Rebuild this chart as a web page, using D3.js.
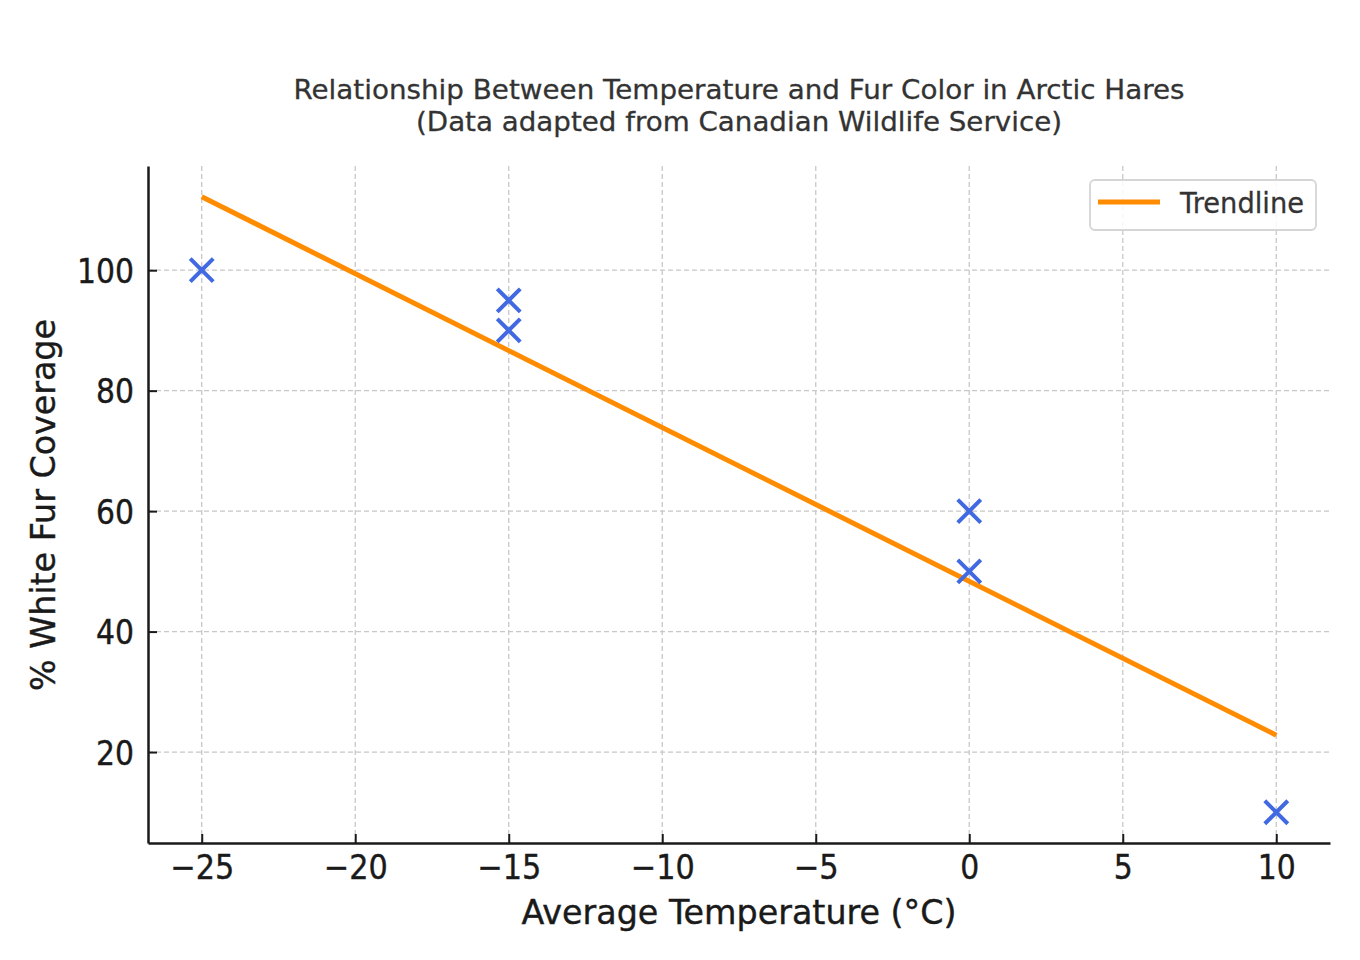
<!DOCTYPE html>
<html>
<head>
<meta charset="utf-8">
<script src="https://cdn.jsdelivr.net/npm/d3@7"></script>
<style>
  body { margin: 0; background: #fff; }
  svg { font-family: "DejaVu Sans", sans-serif; }
</style>
</head>
<body>
<script>
var temps = [-25, -15, -15, 0, 0, 10];
var whiteFur = [100, 95, 90, 60, 50, 10];

// trendline endpoints
var trendX = [-25, 10];
var trendY = [112.2, 22.8];

var xTicks = [-25, -20, -15, -10, -5, 0, 5, 10];
var yTicks = [20, 40, 60, 80, 100];

var width = 1360, height = 960;
var margin = {top: 166, right: 30, bottom: 117, left: 148};

var svg = d3.select('body').append('svg')
  .attr('width', width).attr('height', height);

var x = d3.scaleLinear().domain([-26.75, 11.75]).range([margin.left, width - margin.right]);
var y = d3.scaleLinear().domain([4.9, 117.3]).range([height - margin.bottom, margin.top]);

// grid
svg.append('g').selectAll('line').data(xTicks).enter().append('line')
  .attr('x1', function (d) { return x(d); }).attr('x2', function (d) { return x(d); })
  .attr('y1', y.range()[1]).attr('y2', y.range()[0])
  .attr('stroke', '#c8c8c8').attr('stroke-width', 1.3).attr('stroke-dasharray', '5,3');
svg.append('g').selectAll('line').data(yTicks).enter().append('line')
  .attr('y1', function (d) { return y(d); }).attr('y2', function (d) { return y(d); })
  .attr('x1', x.range()[0]).attr('x2', x.range()[1])
  .attr('stroke', '#c8c8c8').attr('stroke-width', 1.3).attr('stroke-dasharray', '5,3');

// axes
var xAxis = svg.append('g')
  .attr('transform', 'translate(0,' + (height - margin.bottom) + ')')
  .call(d3.axisBottom(x).tickValues(xTicks).tickSizeInner(-9).tickSizeOuter(0).tickPadding(12)
    .tickFormat(function (d) { return d < 0 ? '\u2212' + Math.abs(d) : d; }));
var yAxis = svg.append('g')
  .attr('transform', 'translate(' + margin.left + ',0)')
  .call(d3.axisLeft(y).tickValues(yTicks).tickSizeInner(-9).tickSizeOuter(0).tickPadding(14));

[xAxis, yAxis].forEach(function (a) {
  a.select('.domain').attr('stroke', '#1a1a1a').attr('stroke-width', 2.5);
  a.selectAll('.tick line').attr('stroke', '#1a1a1a').attr('stroke-width', 2);
  a.selectAll('.tick text').attr('fill', '#1a1a1a').attr('font-size', 34)
    .attr('stroke', '#1a1a1a').attr('stroke-width', 0.4)
    .attr('font-family', '"DejaVu Sans", sans-serif');
});
xAxis.selectAll('.tick text').attr('dy', '0.71em');
yAxis.selectAll('.tick text').attr('dy', '0.36em');
// narrow the glyphs a bit like the reference
function squeeze(sel) {
  sel.each(function () {
    var t = d3.select(this), s = t.text();
    var w = 0;
    for (var i = 0; i < s.length; i++) w += s.charAt(i) === '\u2212' ? 26 : 19;
    t.attr('textLength', w).attr('lengthAdjust', 'spacingAndGlyphs');
  });
}
squeeze(xAxis.selectAll('.tick text'));
squeeze(yAxis.selectAll('.tick text'));

// trendline
var line = d3.line().x(function (d) { return x(d[0]); }).y(function (d) { return y(d[1]); });
svg.append('path')
  .datum(d3.zip(trendX, trendY))
  .attr('d', line)
  .attr('fill', 'none').attr('stroke', '#ff8c00').attr('stroke-width', 5);

// x markers
var m = 11.5;
svg.append('g').selectAll('path').data(d3.zip(temps, whiteFur)).enter().append('path')
  .attr('d', function (d) {
    var cx = x(d[0]), cy = y(d[1]);
    return 'M' + (cx - m) + ',' + (cy - m) + 'L' + (cx + m) + ',' + (cy + m) +
           'M' + (cx - m) + ',' + (cy + m) + 'L' + (cx + m) + ',' + (cy - m);
  })
  .attr('stroke', '#4169e1').attr('stroke-width', 4).attr('fill', 'none');

// titles
svg.append('text').attr('x', 739).attr('y', 99).attr('text-anchor', 'middle')
  .attr('font-size', 27).attr('fill', '#333').attr('stroke', '#333').attr('stroke-width', 0.3)
  .attr('textLength', 891).attr('lengthAdjust', 'spacingAndGlyphs')
  .text('Relationship Between Temperature and Fur Color in Arctic Hares');
svg.append('text').attr('x', 739).attr('y', 131).attr('text-anchor', 'middle')
  .attr('font-size', 27).attr('fill', '#333').attr('stroke', '#333').attr('stroke-width', 0.3)
  .attr('textLength', 646).attr('lengthAdjust', 'spacingAndGlyphs')
  .text('(Data adapted from Canadian Wildlife Service)');

svg.append('text').attr('x', 739).attr('y', 924).attr('text-anchor', 'middle')
  .attr('font-size', 33).attr('fill', '#1a1a1a').attr('stroke', '#1a1a1a').attr('stroke-width', 0.4)
  .attr('textLength', 435).attr('lengthAdjust', 'spacingAndGlyphs')
  .text('Average Temperature (\u00b0C)');
svg.append('text').attr('transform', 'translate(55,505) rotate(-90)').attr('text-anchor', 'middle')
  .attr('font-size', 33).attr('fill', '#1a1a1a').attr('stroke', '#1a1a1a').attr('stroke-width', 0.4)
  .attr('textLength', 372).attr('lengthAdjust', 'spacingAndGlyphs')
  .text('% White Fur Coverage');

// legend
var lg = svg.append('g');
lg.append('rect').attr('x', 1090).attr('y', 180).attr('width', 226).attr('height', 50)
  .attr('rx', 5).attr('fill', '#fff').attr('fill-opacity', 0.85)
  .attr('stroke', '#d5d5d5').attr('stroke-width', 1.8);
lg.append('line').attr('x1', 1098).attr('x2', 1160).attr('y1', 202).attr('y2', 202)
  .attr('stroke', '#ff8c00').attr('stroke-width', 5);
lg.append('text').attr('x', 1180).attr('y', 213).attr('font-size', 29).attr('fill', '#333')
  .attr('stroke', '#333').attr('stroke-width', 0.3)
  .attr('textLength', 124).attr('lengthAdjust', 'spacingAndGlyphs')
  .text('Trendline');
</script>
</body>
</html>
